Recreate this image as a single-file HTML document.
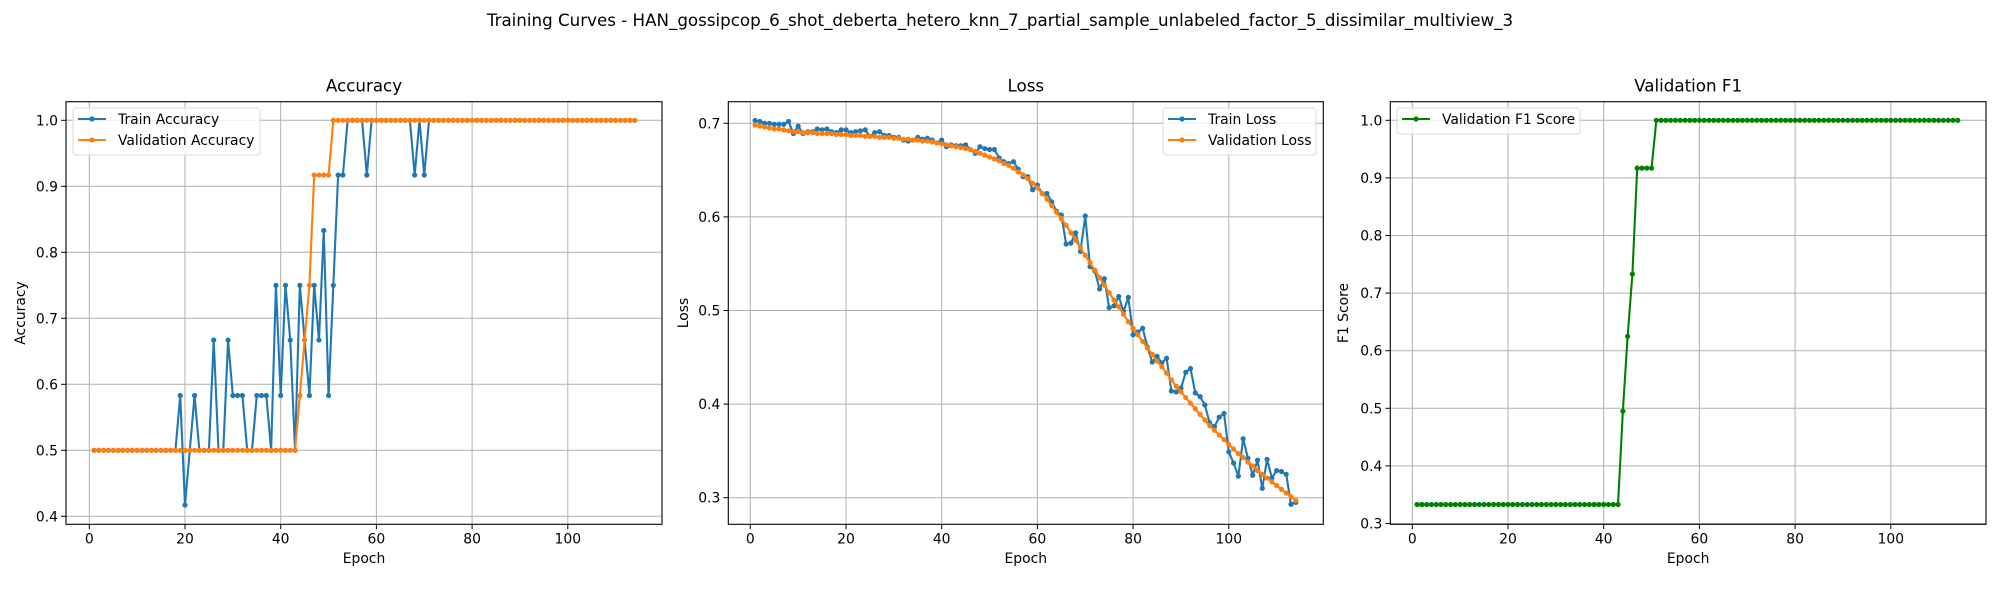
<!DOCTYPE html>
<html><head><meta charset="utf-8"><style>
body{margin:0;background:#fff;}
svg{display:block;font-family:"DejaVu Sans","Liberation Sans",sans-serif;}
</style></head><body>
<svg id="fig" width="2000" height="600" viewBox="0 0 2000 600" xmlns="http://www.w3.org/2000/svg">
<rect width="2000" height="600" fill="#fff"/>
<text x="1000" y="26" text-anchor="middle" font-size="16.7" fill="#000">Training Curves - HAN_gossipcop_6_shot_deberta_hetero_knn_7_partial_sample_unlabeled_factor_5_dissimilar_multiview_3</text>
</svg>
<script>
const trainAcc=[0.5,0.5,0.5,0.5,0.5,0.5,0.5,0.5,0.5,0.5,0.5,0.5,0.5,0.5,0.5,0.5,0.5,0.5,0.583,0.417,0.5,0.583,0.5,0.5,0.5,0.667,0.5,0.5,0.667,0.583,0.583,0.583,0.5,0.5,0.583,0.583,0.583,0.5,0.75,0.583,0.75,0.667,0.5,0.75,0.667,0.583,0.75,0.667,0.833,0.583,0.75,0.917,0.917,1,1,1,1,0.917,1,1,1,1,1,1,1,1,1,0.917,1,0.917,1,1,1,1,1,1,1,1,1,1,1,1,1,1,1,1,1,1,1,1,1,1,1,1,1,1,1,1,1,1,1,1,1,1,1,1,1,1,1,1,1,1,1,1];
const valAcc=[0.5,0.5,0.5,0.5,0.5,0.5,0.5,0.5,0.5,0.5,0.5,0.5,0.5,0.5,0.5,0.5,0.5,0.5,0.5,0.5,0.5,0.5,0.5,0.5,0.5,0.5,0.5,0.5,0.5,0.5,0.5,0.5,0.5,0.5,0.5,0.5,0.5,0.5,0.5,0.5,0.5,0.5,0.5,0.583,0.667,0.75,0.917,0.917,0.917,0.917,1,1,1,1,1,1,1,1,1,1,1,1,1,1,1,1,1,1,1,1,1,1,1,1,1,1,1,1,1,1,1,1,1,1,1,1,1,1,1,1,1,1,1,1,1,1,1,1,1,1,1,1,1,1,1,1,1,1,1,1,1,1,1,1];
const trainLoss=[.703,.702,.700,.700,.699,.699,.699,.702,.689,.697,.689,.691,.691,.694,.693,.694,.691,.690,.693,.693,.690,.691,.692,.693,.686,.690,.691,.687,.687,.685,.685,.682,.681,.682,.685,.683,.684,.682,.679,.682,.675,.677,.676,.676,.677,.672,.668,.675,.673,.672,.672,.663,.659,.657,.659,.651,.643,.643,.629,.634,.625,.625,.616,.606,.602,.571,.572,.583,.563,.601,.547,.542,.523,.534,.503,.505,.515,.499,.514,.474,.477,.481,.461,.445,.451,.444,.449,.414,.413,.417,.434,.438,.412,.408,.399,.380,.376,.386,.390,.349,.337,.323,.363,.342,.324,.340,.310,.341,.321,.329,.328,.325,.293,.295];
const valLoss=[.698,.697,.696,.695,.694,.694,.693,.692,.691,.691,.690,.690,.690,.689,.689,.689,.689,.688,.688,.688,.687,.687,.687,.686,.686,.686,.685,.685,.685,.684,.684,.683,.683,.682,.682,.681,.681,.680,.679,.678,.677,.676,.675,.674,.673,.672,.670,.668,.666,.664,.662,.660,.657,.655,.652,.648,.645,.641,.636,.631,.625,.619,.612,.605,.598,.591,.583,.575,.567,.559,.551,.543,.535,.527,.519,.511,.504,.496,.488,.481,.474,.467,.460,.453,.446,.440,.433,.426,.419,.413,.407,.401,.395,.389,.383,.377,.372,.367,.362,.357,.352,.347,.343,.338,.334,.329,.325,.321,.317,.313,.309,.305,.301,.297];
const valF1=[0.333,0.333,0.333,0.333,0.333,0.333,0.333,0.333,0.333,0.333,0.333,0.333,0.333,0.333,0.333,0.333,0.333,0.333,0.333,0.333,0.333,0.333,0.333,0.333,0.333,0.333,0.333,0.333,0.333,0.333,0.333,0.333,0.333,0.333,0.333,0.333,0.333,0.333,0.333,0.333,0.333,0.333,0.333,0.495,0.625,0.733,0.917,0.917,0.917,0.917,1,1,1,1,1,1,1,1,1,1,1,1,1,1,1,1,1,1,1,1,1,1,1,1,1,1,1,1,1,1,1,1,1,1,1,1,1,1,1,1,1,1,1,1,1,1,1,1,1,1,1,1,1,1,1,1,1,1,1,1,1,1,1,1];
const xTicks=[0,20,40,60,80,100];
const accTicks=[0.4,0.5,0.6,0.7,0.8,0.9,1.0];
const lossTicks=[0.3,0.4,0.5,0.6,0.7];
const f1Ticks=[0.3,0.4,0.5,0.6,0.7,0.8,0.9,1.0];

const NS="http://www.w3.org/2000/svg";
const svg=document.getElementById('fig');
function mk(tag,attrs,parent){const e=document.createElementNS(NS,tag);for(const k in attrs)e.setAttribute(k,attrs[k]);(parent||svg).appendChild(e);return e;}
const TOP=101.7,BOT=524.3;
function panel(p){
  const g=mk('g',{});
  
  
  const sx=e=>p.x0+e*p.xs;
  const sy=v=>p.yRef+(p.vRef-v)*p.ys;
  xTicks.forEach(t=>{
    const gl=mk('line',{x1:sx(t),x2:sx(t),y1:TOP,y2:BOT,stroke:'#b0b0b0','stroke-width':1},g);
    
    
    const tk=mk('line',{x1:sx(t),x2:sx(t),y1:BOT,y2:BOT+4.9,stroke:'#000','stroke-width':1},g);
    
    
    const tl=mk('text',{x:sx(t),y:BOT+19,'text-anchor':'middle','font-size':13.9,fill:'#000'},g);
    
    
    tl.textContent=t;
  });
  p.yt.forEach(t=>{
    const gl=mk('line',{x1:p.L,x2:p.R,y1:sy(t),y2:sy(t),stroke:'#b0b0b0','stroke-width':1},g);
    
    
    const tk=mk('line',{x1:p.L-4.9,x2:p.L,y1:sy(t),y2:sy(t),stroke:'#000','stroke-width':1},g);
    
    
    const tl=mk('text',{x:p.L-8,y:sy(t)+5,'text-anchor':'end','font-size':13.9,fill:'#000'},g);
    
    
    tl.textContent=t.toFixed(1);
  });
  p.series.forEach(s=>{
    const pts=s.data.map((v,i)=>sx(i+1).toFixed(2)+','+sy(v).toFixed(2)).join(' ');
    const pl=mk('polyline',{points:pts,fill:'none',stroke:s.color,'stroke-width':2.1,'stroke-linejoin':'round'},g);
    
    
    s.data.forEach((v,i)=>{
      const c=mk('circle',{cx:sx(i+1),cy:sy(v),r:2.6,fill:s.color},g);
      
      
    });
  });
  const fr=mk('rect',{x:p.L,y:TOP,width:p.R-p.L,height:BOT-TOP,fill:'none',stroke:'#000','stroke-width':1.1},g);
  
  
  const ti=mk('text',{x:(p.L+p.R)/2,y:TOP-10,'text-anchor':'middle','font-size':16.7,fill:'#000'},g);
  
  
  ti.textContent=p.title;
  const xl=mk('text',{x:(p.L+p.R)/2,y:563,'text-anchor':'middle','font-size':13.9,fill:'#000'},g);
  
  
  xl.textContent='Epoch';
  const cy=(TOP+BOT)/2;
  const yl=mk('text',{x:p.ylx,y:cy,'text-anchor':'middle','font-size':13.9,fill:'#000',transform:'rotate(-90 '+p.ylx+' '+cy+')'},g);
  
  
  yl.textContent=p.ylabel;
  const lg=mk('g',{},g);
  
  
  const lh=p.series.length*21+5;
  mk('rect',{x:p.lx,y:108,width:p.lw,height:lh,rx:3,fill:'#fff','fill-opacity':0.8,stroke:'#d9d9d9','stroke-width':1},lg);
  p.series.forEach((s,i)=>{
    const y=119+i*21;
    const e=mk('g',{},lg);
    
    
    mk('line',{x1:p.lx+5,x2:p.lx+33,y1:y,y2:y,stroke:s.color,'stroke-width':2.1},e);
    mk('circle',{cx:p.lx+19,cy:y,r:2.6,fill:s.color},e);
    const t=mk('text',{x:p.lx+45,y:y+5,'font-size':13.9,fill:'#000'},e);
    t.textContent=s.label;
  });
}
panel({name:'accuracy',title:'Accuracy',ylabel:'Accuracy',L:66,R:662,x0:89.3,xs:4.785,yRef:120.3,vRef:1.0,ys:660,yt:accTicks,ylx:25,lx:73,lw:187,
  series:[{key:'train-accuracy',label:'Train Accuracy',color:'#1f77b4',data:trainAcc},{key:'validation-accuracy',label:'Validation Accuracy',color:'#ff7f0e',data:valAcc}]});
panel({name:'loss',title:'Loss',ylabel:'Loss',L:728.3,R:1323.3,x0:750.3,xs:4.785,yRef:123.3,vRef:0.7,ys:936,yt:lossTicks,ylx:688,lx:1163,lw:153,
  series:[{key:'train-loss',label:'Train Loss',color:'#1f77b4',data:trainLoss},{key:'validation-loss',label:'Validation Loss',color:'#ff7f0e',data:valLoss}]});
panel({name:'f1',title:'Validation F1',ylabel:'F1 Score',L:1390.3,R:1986,x0:1412.3,xs:4.785,yRef:120.3,vRef:1.0,ys:576,yt:f1Ticks,ylx:1348,lx:1397,lw:183,
  series:[{key:'validation-f1',label:'Validation F1 Score',color:'#008000',data:valF1}]});
</script>
</body></html>
